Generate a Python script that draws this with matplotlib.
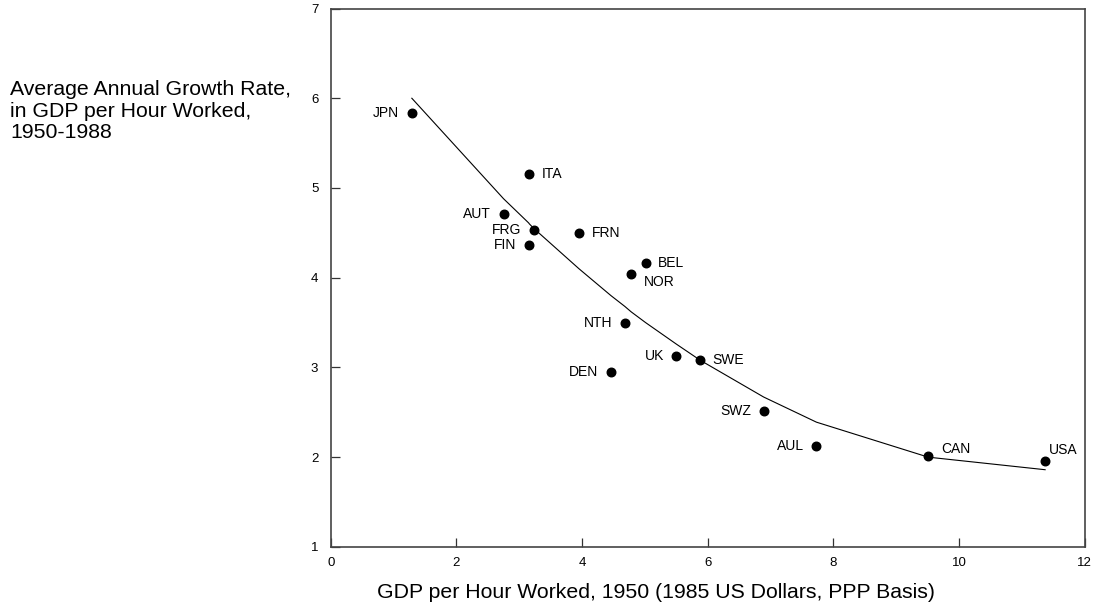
import matplotlib
matplotlib.use("Agg")
import matplotlib.pyplot as plt

plt.rcParams["font.family"] = ["Liberation Sans", "DejaVu Sans"]

# country data: GDP per hour worked 1950 vs growth rate 1950-1988
countries = ["JPN", "ITA", "AUT", "FRG", "FIN", "FRN", "BEL", "NOR",
             "NTH", "UK", "SWE", "DEN", "SWZ", "AUL", "CAN", "USA"]
gdp_1950 = [1.29, 3.16, 2.75, 3.23, 3.15, 3.95, 5.01, 4.78,
            4.68, 5.50, 5.88, 4.46, 6.89, 7.73, 9.51, 11.37]
growth = [5.84, 5.16, 4.71, 4.53, 4.37, 4.50, 4.16, 4.04,
          3.49, 3.13, 3.08, 2.95, 2.51, 2.12, 2.01, 1.96]

# fitted curve, read at the sorted country x values
fit_x = [1.29, 2.75, 3.15, 3.16, 3.23, 3.95, 4.46, 4.68,
         4.78, 5.01, 5.50, 5.88, 6.89, 7.73, 9.51, 11.37]
fit_y = [6.00, 4.88, 4.61, 4.60, 4.55, 4.10, 3.80, 3.68,
         3.62, 3.50, 3.26, 3.08, 2.67, 2.39, 2.00, 1.86]

# label placement: offset in points (dx, dy) and alignment
label_pos = {
    "JPN": (-9, 0, "right"),
    "ITA": (9, 0, "left"),
    "AUT": (-9, 0, "right"),
    "FRG": (-9, 0, "right"),
    "FIN": (-9, 0, "right"),
    "FRN": (9, 0, "left"),
    "BEL": (9, 0, "left"),
    "NOR": (9, -6, "left"),
    "NTH": (-9, 0, "right"),
    "UK": (-9, 0, "right"),
    "SWE": (9, 0, "left"),
    "DEN": (-9, 0, "right"),
    "SWZ": (-9, 0, "right"),
    "AUL": (-9, 0, "right"),
    "CAN": (9, 5, "left"),
    "USA": (3, 8, "left"),
}

fig = plt.figure(figsize=(10.99, 6.09), dpi=100)
ax = fig.add_axes([0.301, 0.102, 0.686, 0.884])

ax.plot(fit_x, fit_y, color="black", lw=0.8)
ax.scatter(gdp_1950, growth, s=38, color="black", zorder=3)

for name, x, y in zip(countries, gdp_1950, growth):
    dx, dy, ha = label_pos[name]
    ax.annotate(name, (x, y), xytext=(dx, dy), textcoords="offset points",
                ha=ha, va="center", fontsize=10)

ax.set_xlim(0, 12)
ax.set_ylim(1, 7)
ax.set_xticks(range(0, 13, 2))
ax.set_yticks(range(1, 8))
ax.tick_params(direction="in", length=6.5, width=0.9, labelsize=9.5,
               color="#333333")
ax.tick_params(axis="x", pad=7)
ax.tick_params(axis="y", pad=9)
for sp in ax.spines.values():
    sp.set_color("#444444")
    sp.set_linewidth(1.2)

fig.text(0.597, 0.027, "GDP per Hour Worked, 1950 (1985 US Dollars, PPP Basis)",
         ha="center", va="center", fontsize=15.3)
fig.text(0.009, 0.868, "Average Annual Growth Rate,\nin GDP per Hour Worked,\n1950-1988",
         ha="left", va="top", fontsize=15.3, linespacing=1.17)

fig.savefig("out.png", dpi=100)
